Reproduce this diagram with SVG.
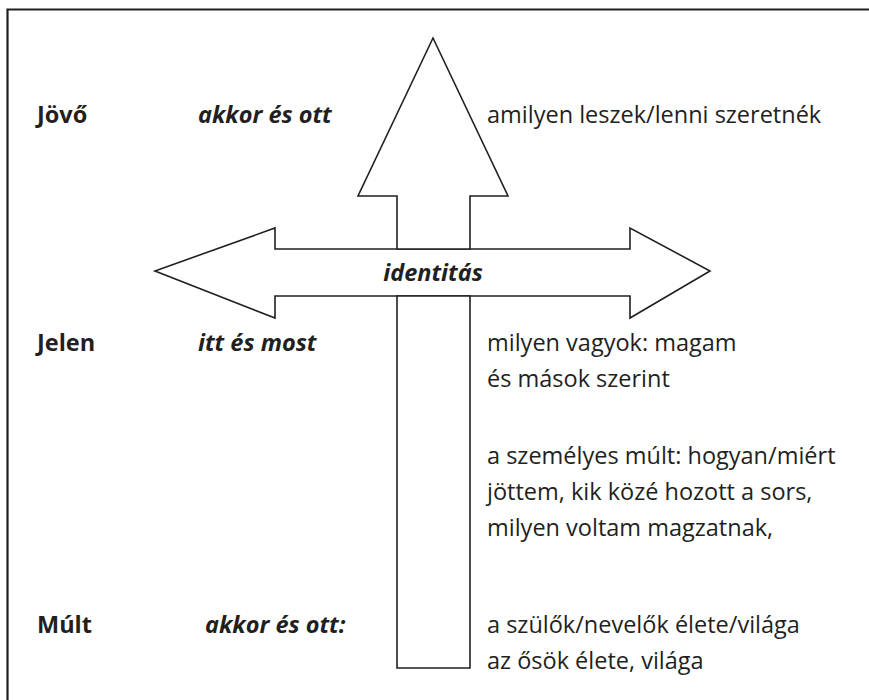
<svg xmlns="http://www.w3.org/2000/svg" width="869" height="700" viewBox="0 0 869 700">
<style>
.frame{fill:none;stroke:#231f20;stroke-width:2.2}
.arrow{fill:#fff;stroke:#231f20;stroke-width:1.6;stroke-linejoin:miter}
text{font-family:"Open Sans","Noto Sans","Liberation Sans",sans-serif;fill:#231f20;font-size:23.5px}
.b{font-weight:700}
.bi{font-weight:700;font-style:italic}
</style>
<rect width="869" height="700" fill="#fff"/>
<path class="frame" d="M7.5,710 V9.5 H880"/>
<g id="connectors">
<path id="horizontal-arrow" class="arrow" d="M155,271 L275,228 V249 H630 V228 L710,271 L630,318 V296 H275 V318 Z"/>
<path id="up-arrow" class="arrow" d="M433,38 L508,196 H470 V249 H397 V196 H358 Z"/>
<path id="down-shaft" class="arrow" d="M397,296 H470 V668 H397 Z"/>
</g>
<g id="identitas"><text class="bi" x="433" y="281" text-anchor="middle">identitás</text></g>
<g id="jovo">
<text class="b" x="37" y="123">Jövő</text>
<text class="bi" x="198" y="123">akkor és ott</text>
<text x="487" y="123">amilyen leszek/lenni szeretnék</text>
</g>
<g id="jelen">
<text class="b" x="37" y="351">Jelen</text>
<text class="bi" x="198" y="351">itt és most</text>
<text x="487" y="351">milyen vagyok: magam</text>
<text x="487" y="387">és mások szerint</text>
<text x="487" y="464">a személyes múlt: hogyan/miért</text>
<text x="487" y="500">jöttem, kik közé hozott a sors,</text>
<text x="487" y="536">milyen voltam magzatnak,</text>
</g>
<g id="mult">
<text class="b" x="37" y="633">Múlt</text>
<text class="bi" x="205" y="633">akkor és ott:</text>
<text x="487" y="633">a szülők/nevelők élete/világa</text>
<text x="487" y="669">az ősök élete, világa</text>
</g>
</svg>
